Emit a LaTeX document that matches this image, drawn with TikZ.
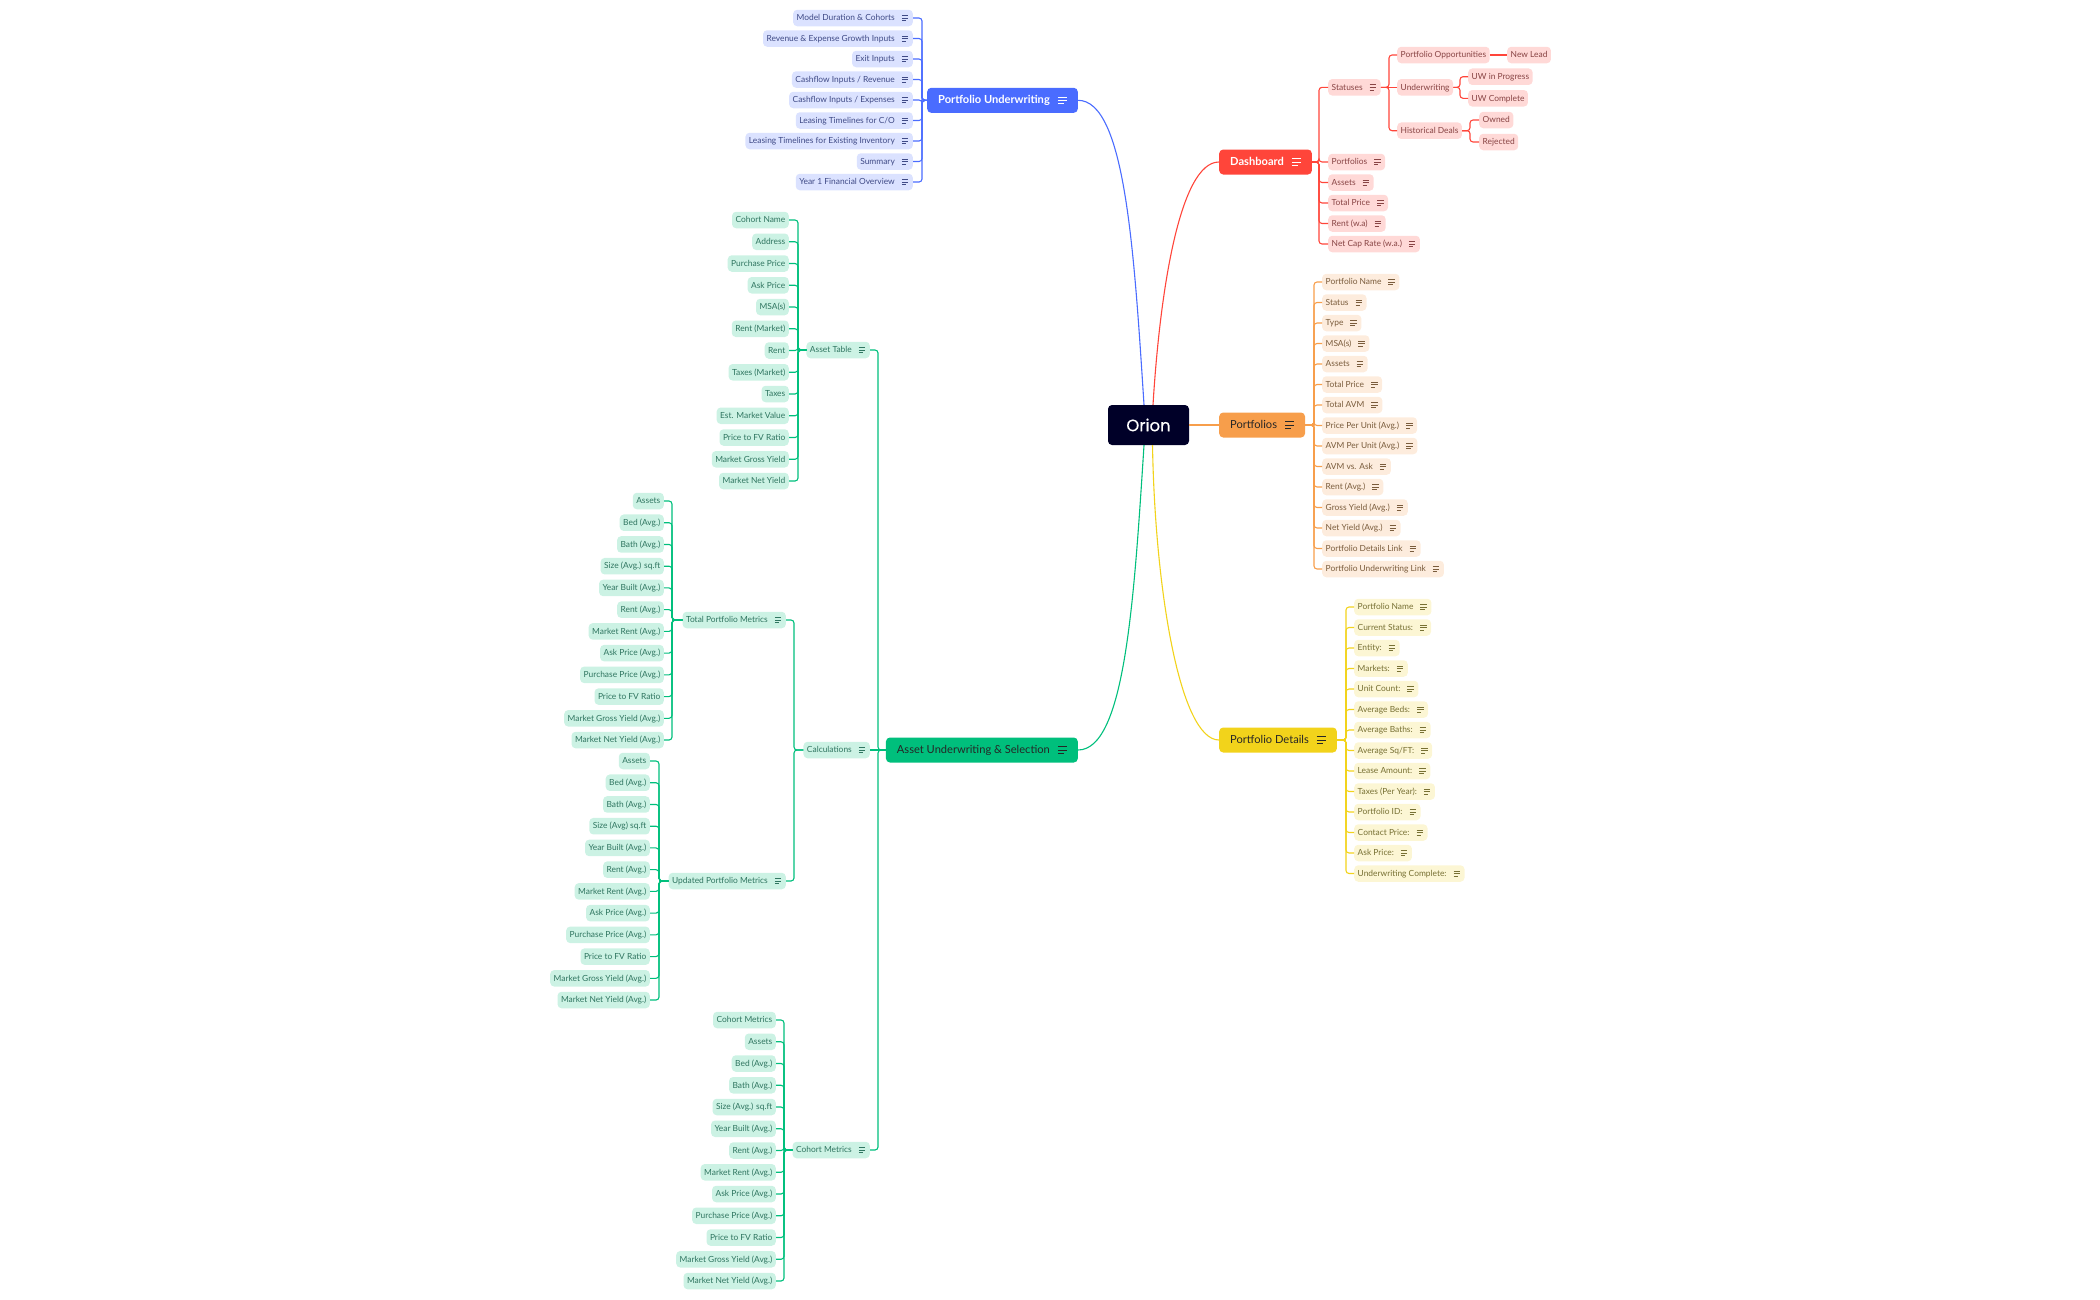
\documentclass[tikz,border=0pt]{standalone}
\usepackage{fontspec}
\setmainfont{Lato}
\newfontfamily\rootfont[FakeBold=0.5]{Poppins}

\definecolor{uwline}{HTML}{4A6CFF}
\definecolor{uwfill}{HTML}{DBE2FF}
\definecolor{uwtext}{HTML}{3F4A86}
\definecolor{redline}{HTML}{FF453A}
\definecolor{redfill}{HTML}{FFD9D7}
\definecolor{redtext}{HTML}{884444}
\definecolor{pfline}{HTML}{F79E4B}
\definecolor{pffill}{HTML}{FDECDD}
\definecolor{pftext}{HTML}{7A5C3C}
\definecolor{pdline}{HTML}{F2D31B}
\definecolor{pdfill}{HTML}{FCF6D4}
\definecolor{pdtext}{HTML}{777033}
\definecolor{auline}{HTML}{00BF7C}
\definecolor{aufill}{HTML}{CCF2E4}
\definecolor{autext}{HTML}{2F7560}
\definecolor{rootfill}{HTML}{000028}

% three lines of the note mark: left offset, length, gap, colour
\newcommand{\notemark}[4]{
	\draw[#4, line width=.55pt] ([xshift=-#1pt, yshift=#3pt]path picture bounding box.east) -- ++(#2,0);
	\draw[#4, line width=.55pt] ([xshift=-#1pt]path picture bounding box.east) -- ++(#2,0);
	\draw[#4, line width=.55pt] ([xshift=-#1pt, yshift=-#3pt]path picture bounding box.east) -- ++(.65*#2,0);
}

\tikzset{
	leaf/.style 2 args={fill=#1, text=#2, rounded corners=4pt, font=\fontsize{8.4}{10}\selectfont, inner xsep=3.5pt, inner ysep=0pt, minimum height=16.5pt, text height=6.5pt, text depth=1pt},
	leafnote/.style={execute at end node={\hspace*{14.5pt}}, path picture={\notemark{11}{6.5}{2.6}{#1}}},
	branch/.style 2 args={fill=#1, text=#2, rounded corners=4pt, font=\fontsize{11.1}{13}\selectfont, inner xsep=11pt, inner ysep=0pt, minimum height=25pt, text height=8.6pt, text depth=1.6pt, execute at end node={\hspace*{17pt}}, path picture={\notemark{20}{9.3}{3.3}{#2}}},
	link/.style={line width=1.1pt, rounded corners=3pt, #1}
}

\begin{document}
\begin{tikzpicture}[x=1pt, y=-1pt]
	\useasboundingbox (0,0) rectangle (2100,1299);

	\node[fill=rootfill, text=white, rounded corners=4pt, font=\rootfont\fontsize{16.5}{18}\selectfont, minimum width=81pt, minimum height=40pt, inner sep=0pt] (root) at (1148.5,425) {Orion};

	% portfolio underwriting
	\node[branch={uwline}{white}, anchor=east, font=\fontsize{11.1}{13}\selectfont\bfseries] (uw) at (1078,100.3) {Portfolio Underwriting};
	\coordinate (uwspine) at (922,100.3);
	\foreach[count=\i from 0] \txt in {Model Duration \& Cohorts,Revenue \& Expense Growth Inputs,Exit Inputs,Cashflow Inputs / Revenue,Cashflow Inputs / Expenses,Leasing Timelines for C/O,Leasing Timelines for Existing Inventory,Summary,Year 1 Financial Overview}{
		\node[leaf={uwfill}{uwtext}, leafnote=uwtext, anchor=east] (uw\i) at (913,{18+20.5*\i}) {\txt};
		\draw[link=uwline] (uw\i.east) -| (uwspine) -- (uw.west);
	}
	\draw[link=uwline] (uw.east) .. controls (1125,100.3) and (1134,250) .. ([xshift=-4.5pt]root.north);

	% dashboard
	\node[branch={redline}{white}, anchor=west, font=\fontsize{11.1}{13}\selectfont\bfseries] (dash) at (1219,162) {Dashboard};
	\coordinate (dashspine) at (1319,162);
	\node[leaf={redfill}{redtext}, leafnote=redtext, anchor=west] (statuses) at (1328,87.3) {Statuses};
	\node[leaf={redfill}{redtext}, leafnote=redtext, anchor=west] (dash1) at (1328,162) {Portfolios};
	\node[leaf={redfill}{redtext}, leafnote=redtext, anchor=west] (dash2) at (1328,182.5) {Assets};
	\node[leaf={redfill}{redtext}, leafnote=redtext, anchor=west] (dash3) at (1328,203) {Total Price};
	\node[leaf={redfill}{redtext}, leafnote=redtext, anchor=west] (dash4) at (1328,223.5) {Rent (w.a)};
	\node[leaf={redfill}{redtext}, leafnote=redtext, anchor=west] (dash5) at (1328,244) {Net Cap Rate (w.a.)};
	\draw[link=redline] (statuses.west) -| (dashspine) -- (dash.east);
	\foreach \i in {1,...,5}{
		\draw[link=redline] (dash\i.west) -| (dashspine) -- (dash.east);
	}

	\coordinate (statspine) at (1389,87.3);
	\node[leaf={redfill}{redtext}, anchor=west] (opps) at (1397,55) {Portfolio Opportunities};
	\node[leaf={redfill}{redtext}, anchor=west] (under) at (1397,87.3) {Underwriting};
	\node[leaf={redfill}{redtext}, anchor=west] (hist) at (1397,130.7) {Historical Deals};
	\draw[link=redline] (opps.west) -| (statspine) -- (statuses.east);
	\draw[link=redline] (under.west) -- (statuses.east);
	\draw[link=redline] (hist.west) -| (statspine) -- (statuses.east);

	\node[leaf={redfill}{redtext}, anchor=west] (newlead) at (1507,55) {New Lead};
	\draw[link=redline] (opps.east) -- (newlead.west);

	\coordinate (underspine) at (1460,87.3);
	\node[leaf={redfill}{redtext}, anchor=west] (uwprog) at (1468,76.7) {UW in Progress};
	\node[leaf={redfill}{redtext}, anchor=west] (uwdone) at (1468,98.3) {UW Complete};
	\draw[link=redline] (uwprog.west) -| (underspine) -- (under.east);
	\draw[link=redline] (uwdone.west) -| (underspine) -- (under.east);

	\coordinate (histspine) at (1470,130.7);
	\node[leaf={redfill}{redtext}, anchor=west] (owned) at (1479,120) {Owned};
	\node[leaf={redfill}{redtext}, anchor=west] (rejected) at (1479,142) {Rejected};
	\draw[link=redline] (owned.west) -| (histspine) -- (hist.east);
	\draw[link=redline] (rejected.west) -| (histspine) -- (hist.east);

	\draw[link=redline] (dash.west) .. controls (1180,162) and (1160,290) .. ([xshift=4.5pt]root.north);

	% portfolios
	\node[branch={pfline}{black!85}, anchor=west] (pf) at (1219,425) {Portfolios};
	\coordinate (pfspine) at (1314,425);
	\foreach[count=\i from 0] \txt in {Portfolio Name,Status,Type,MSA(s),Assets,Total Price,Total AVM,Price Per Unit (Avg.),AVM Per Unit (Avg.),AVM vs. Ask,Rent (Avg.),Gross Yield (Avg.),Net Yield (Avg.),Portfolio Details Link,Portfolio Underwriting Link}{
		\node[leaf={pffill}{pftext}, leafnote=pftext, anchor=west] (pf\i) at (1322,{282+20.5*\i}) {\txt};
		\draw[link=pfline] (pf\i.west) -| (pfspine) -- (pf.east);
	}
	\draw[link=pfline] (root.east) -- (pf.west);

	% portfolio details
	\node[branch={pdline}{black!85}, anchor=west] (pd) at (1219,740) {Portfolio Details};
	\coordinate (pdspine) at (1346,740);
	\foreach[count=\i from 0] \txt in {Portfolio Name,Current Status:,Entity:,Markets:,Unit Count:,Average Beds:,Average Baths:,Average Sq/FT:,Lease Amount:,Taxes (Per Year):,Portfolio ID:,Contact Price:,Ask Price:,Underwriting Complete:}{
		\node[leaf={pdfill}{pdtext}, leafnote=pdtext, anchor=west] (pd\i) at (1354,{607+20.5*\i}) {\txt};
		\draw[link=pdline] (pd\i.west) -| (pdspine) -- (pd.east);
	}
	\draw[link=pdline] (pd.west) .. controls (1180,740) and (1155,590) .. ([xshift=4pt]root.south);

	% asset underwriting
	\node[branch={auline}{black!85}, anchor=east] (au) at (1078,750) {Asset Underwriting \& Selection};
	\coordinate (auspine) at (878,750);
	\draw[link=auline] (au.east) .. controls (1125,750) and (1134,600) .. ([xshift=-4.5pt]root.south);

	\node[leaf={aufill}{autext}, leafnote=autext, anchor=east] (table) at (870,350) {Asset Table};
	\node[leaf={aufill}{autext}, leafnote=autext, anchor=east] (calc) at (870,750) {Calculations};
	\node[leaf={aufill}{autext}, leafnote=autext, anchor=east] (cohort) at (870,1150) {Cohort Metrics};
	\draw[link=auline] (table.east) -| (auspine) -- (au.west);
	\draw[link=auline] (calc.east) -- (au.west);
	\draw[link=auline] (cohort.east) -| (auspine) -- (au.west);

	% asset table
	\coordinate (tablespine) at (798,350);
	\foreach[count=\i from 0] \txt in {Cohort Name,Address,Purchase Price,Ask Price,MSA(s),Rent (Market),Rent,Taxes (Market),Taxes,Est. Market Value,Price to FV Ratio,Market Gross Yield,Market Net Yield}{
		\node[leaf={aufill}{autext}, anchor=east] (table\i) at (789,{220+21.75*\i}) {\txt};
		\draw[link=auline] (table\i.east) -| (tablespine) -- (table.west);
	}

	% calculations
	\coordinate (calcspine) at (794,750);
	\node[leaf={aufill}{autext}, leafnote=autext, anchor=east] (total) at (786,620) {Total Portfolio Metrics};
	\node[leaf={aufill}{autext}, leafnote=autext, anchor=east] (updated) at (786,881) {Updated Portfolio Metrics};
	\draw[link=auline] (total.east) -| (calcspine) -- (calc.west);
	\draw[link=auline] (updated.east) -| (calcspine) -- (calc.west);

	\coordinate (totalspine) at (672,620);
	\foreach[count=\i from 0] \txt in {Assets,Bed (Avg.),Bath (Avg.),Size (Avg.) sq.ft,Year Built (Avg.),Rent (Avg.),Market Rent (Avg.),Ask Price (Avg.),Purchase Price (Avg.),Price to FV Ratio,Market Gross Yield (Avg.),Market Net Yield (Avg.)}{
		\node[leaf={aufill}{autext}, anchor=east] (total\i) at (664,{501+21.73*\i}) {\txt};
		\draw[link=auline] (total\i.east) -| (totalspine) -- (total.west);
	}

	\coordinate (updatedspine) at (659,881);
	\foreach[count=\i from 0] \txt in {Assets,Bed (Avg.),Bath (Avg.),Size (Avg) sq.ft,Year Built (Avg.),Rent (Avg.),Market Rent (Avg.),Ask Price (Avg.),Purchase Price (Avg.),Price to FV Ratio,Market Gross Yield (Avg.),Market Net Yield (Avg.)}{
		\node[leaf={aufill}{autext}, anchor=east] (updated\i) at (650,{761+21.73*\i}) {\txt};
		\draw[link=auline] (updated\i.east) -| (updatedspine) -- (updated.west);
	}

	% cohort metrics
	\coordinate (cohortspine) at (784,1150);
	\foreach[count=\i from 0] \txt in {Cohort Metrics,Assets,Bed (Avg.),Bath (Avg.),Size (Avg.) sq.ft,Year Built (Avg.),Rent (Avg.),Market Rent (Avg.),Ask Price (Avg.),Purchase Price (Avg.),Price to FV Ratio,Market Gross Yield (Avg.),Market Net Yield (Avg.)}{
		\node[leaf={aufill}{autext}, anchor=east] (cohort\i) at (776,{1020+21.75*\i}) {\txt};
		\draw[link=auline] (cohort\i.east) -| (cohortspine) -- (cohort.west);
	}
\end{tikzpicture}
\end{document}
